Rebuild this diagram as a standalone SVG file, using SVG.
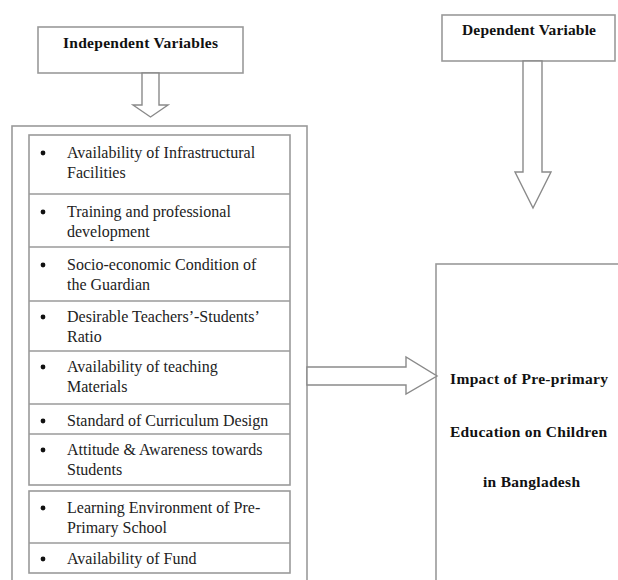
<svg xmlns="http://www.w3.org/2000/svg" width="618" height="580" viewBox="0 0 618 580">
<style>
.box{fill:#fff;stroke:#9a9a9a;stroke-width:1.6}
.arr{fill:#fff;stroke:#8a8a8a;stroke-width:1.4;stroke-linejoin:miter}
.hd{font-family:"Liberation Serif","Times New Roman",serif;font-weight:bold;font-size:15.5px;fill:#111}
.it{font-family:"Liberation Serif","Times New Roman",serif;font-size:16px;fill:#222}
.bul{fill:#111}
</style>
<rect width="618" height="580" fill="#fff"/>
<g id="independent-header">
<rect class="box" x="38" y="27" width="205" height="46"/>
<text class="hd" x="63" y="48" textLength="155" lengthAdjust="spacing">Independent Variables</text>
</g>
<g id="dependent-header">
<rect class="box" x="442" y="15" width="173" height="46"/>
<text class="hd" x="462" y="35" textLength="134" lengthAdjust="spacing">Dependent Variable</text>
</g>
<g id="independent-list">
<rect class="box" x="12" y="126" width="295" height="470"/>
<rect class="box" x="29" y="135" width="261" height="350"/>
<rect class="box" x="29" y="491" width="261" height="82"/>
<g stroke="#9a9a9a" stroke-width="1.6">
<line x1="29" y1="194" x2="290" y2="194"/>
<line x1="29" y1="247" x2="290" y2="247"/>
<line x1="29" y1="301" x2="290" y2="301"/>
<line x1="29" y1="351" x2="290" y2="351"/>
<line x1="29" y1="404" x2="290" y2="404"/>
<line x1="29" y1="434" x2="290" y2="434"/>
<line x1="29" y1="543" x2="290" y2="543"/>
</g>
<g class="bul">
<circle cx="43" cy="153" r="2.4"/>
<circle cx="43" cy="212" r="2.4"/>
<circle cx="43" cy="265" r="2.4"/>
<circle cx="43" cy="317" r="2.4"/>
<circle cx="43" cy="367" r="2.4"/>
<circle cx="43" cy="421" r="2.4"/>
<circle cx="43" cy="450" r="2.4"/>
<circle cx="43" cy="508" r="2.4"/>
<circle cx="43" cy="559" r="2.4"/>
</g>
<text class="it" x="67" y="158">Availability of Infrastructural</text>
<text class="it" x="67" y="178">Facilities</text>
<text class="it" x="67" y="217">Training and professional</text>
<text class="it" x="67" y="237">development</text>
<text class="it" x="67" y="270">Socio-economic Condition of</text>
<text class="it" x="67" y="290">the Guardian</text>
<text class="it" x="67" y="322">Desirable Teachers’-Students’</text>
<text class="it" x="67" y="342">Ratio</text>
<text class="it" x="67" y="372">Availability of teaching</text>
<text class="it" x="67" y="392">Materials</text>
<text class="it" x="67" y="426">Standard of Curriculum Design</text>
<text class="it" x="67" y="455">Attitude &amp; Awareness towards</text>
<text class="it" x="67" y="475">Students</text>
<text class="it" x="67" y="513">Learning Environment of Pre-</text>
<text class="it" x="67" y="533">Primary School</text>
<text class="it" x="67" y="564">Availability of Fund</text>
</g>
<g id="impact">
<rect class="box" x="436" y="264" width="200" height="340"/>
<text class="hd" x="450" y="384" textLength="158" lengthAdjust="spacing">Impact of Pre-primary</text>
<text class="hd" x="450" y="437" textLength="157" lengthAdjust="spacing">Education on Children</text>
<text class="hd" x="483" y="487" textLength="97" lengthAdjust="spacing">in Bangladesh</text>
</g>
<g id="connectors">
<polygon class="arr" points="142,73 159,73 159,105 168,105 150.5,117 133,105 142,105"/>
<polygon class="arr" points="523,61 542,61 542,172 551,172 533,208 515,172 523,172"/>
<polygon class="arr" points="307,367 406,367 406,357 437,376 406,394 406,385 307,385"/>
</g>
</svg>
